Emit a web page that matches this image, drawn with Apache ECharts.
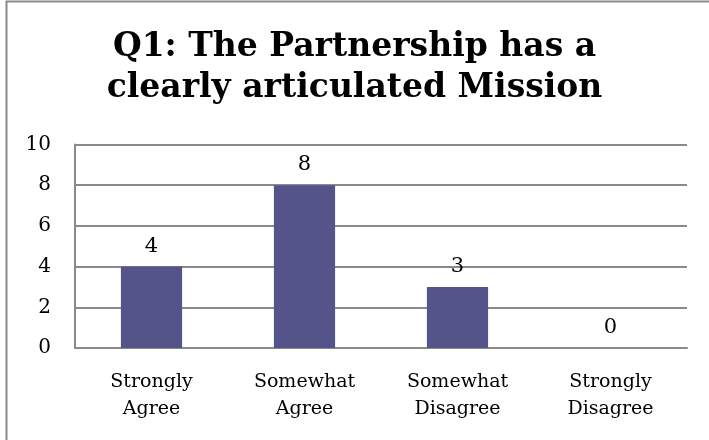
<!DOCTYPE html>
<html><head><meta charset="utf-8">
<script src="https://cdn.jsdelivr.net/npm/echarts@6/dist/echarts.min.js"></script>
<style>html,body{margin:0;padding:0;background:#fff}#c{width:709px;height:440px}</style>
</head><body><div id="c"></div>
<script>
const titleLines = ["Q1: The Partnership has a", "clearly articulated Mission"];
const categories = ["Strongly\nAgree", "Somewhat\nAgree", "Somewhat\nDisagree", "Strongly\nDisagree"];
const values = [4, 8, 3, 0];
const yTicks = [0, 2, 4, 6, 8, 10];

const chart = echarts.init(document.getElementById('c'), null, {renderer: 'canvas'});
const font = 'DejaVu Serif';
chart.setOption({
  animation: false,
  backgroundColor: '#fff',
  title: {
    text: titleLines.join('\n'),
    left: 'center', top: 22,
    textStyle: {fontFamily: font, fontWeight: 'bold', fontSize: 33, color: '#000', lineHeight: 41}
  },
  graphic: [{
    type: 'rect', shape: {x: 6.5, y: 1.5, width: 720, height: 460},
    style: {fill: 'none', stroke: '#8a8a8a', lineWidth: 2}, silent: true
  }],
  grid: {left: 75, right: 22, top: 144.5, bottom: 92},
  xAxis: {
    type: 'category', data: categories,
    axisLine: {show: true, lineStyle: {color: '#8a8a8a', width: 2}},
    axisTick: {show: false},
    axisLabel: {fontFamily: font, fontSize: 19, color: '#000', lineHeight: 27, margin: 21}
  },
  yAxis: {
    type: 'value', min: yTicks[0], max: yTicks[yTicks.length - 1], interval: 2,
    axisLine: {show: true, lineStyle: {color: '#8a8a8a', width: 2}},
    axisTick: {show: false},
    splitLine: {show: true, lineStyle: {color: '#8a8a8a', width: 2}},
    axisLabel: {fontFamily: font, fontSize: 20, color: '#000', margin: 24}
  },
  series: [{
    type: 'bar', data: values, barWidth: '40%',
    itemStyle: {color: '#55548a'},
    label: {show: true, position: 'top', distance: 10, fontFamily: font, fontSize: 21, color: '#000'}
  }]
});
</script></body></html>
